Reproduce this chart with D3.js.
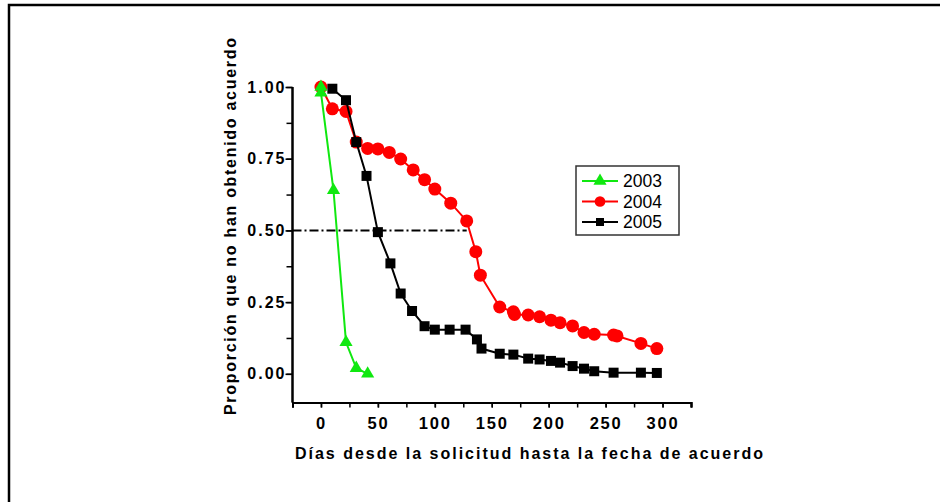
<!DOCTYPE html>
<html>
<head>
<meta charset="utf-8">
<script src="https://cdn.jsdelivr.net/npm/d3@7"></script>
<style>
  body { margin: 0; background: #fff; }
  svg { display: block; font-family: "Liberation Sans", Arial, sans-serif; }
</style>
</head>
<body>
<script>
// datos: [dias, proporcion]
const serie2003 = [[0, 1.0], [0, 0.98], [11, 0.64], [22, 0.11], [31, 0.02], [41, 0.0]];
const serie2004 = [[0, 1.0], [10, 0.924], [22, 0.915], [31, 0.808], [41, 0.786], [50, 0.784],
  [60, 0.772], [70, 0.749], [81, 0.711], [91, 0.677], [100, 0.644], [114, 0.595], [128, 0.533],
  [136, 0.426], [140, 0.344], [157, 0.233], [169, 0.216], [170, 0.207], [182, 0.205],
  [192, 0.199], [202, 0.187], [210, 0.178], [221, 0.167], [231, 0.144], [240, 0.138],
  [257, 0.135], [260, 0.132], [281, 0.106], [295, 0.088]];
const serie2005 = [[10, 0.994], [22, 0.954], [31, 0.808], [40, 0.69], [50, 0.494], [61, 0.385],
  [70, 0.28], [80, 0.219], [91, 0.166], [100, 0.154], [113, 0.154], [127, 0.154], [137, 0.12],
  [141, 0.088], [157, 0.07], [169, 0.067], [182, 0.053], [192, 0.05], [202, 0.045],
  [210, 0.039], [221, 0.027], [231, 0.018], [240, 0.009], [257, 0.004], [281, 0.004], [295, 0.003]];
const anios = ["2003", "2004", "2005"];
const ticksX = [0, 50, 100, 150, 200, 250, 300];
const ticksY = [0, 0.25, 0.5, 0.75, 1.0];
const mediana = [[-25, 0.5], [128, 0.5]];

const width = 940, height = 502;

const svg = d3.select("body").append("svg")
  .attr("width", width)
  .attr("height", height);

// marco
svg.append("path")
  .attr("d", "M9,502 V5 H940")
  .attr("fill", "none")
  .attr("stroke", "#000")
  .attr("stroke-width", 2.5);

const x = d3.scaleLinear().domain([-25, 325]).range([292.5, 691]);
const y = d3.scaleLinear().domain([-0.1, 1.0]).range([402.5, 87]);

// eje x
const ejeX = svg.append("g")
  .attr("transform", "translate(0," + 402.5 + ")");
ejeX.call(d3.axisBottom(x).tickValues(d3.range(-25, 326, 25)).tickSize(5).tickFormat(""));
ejeX.call(g => g.append("g").call(d3.axisBottom(x).tickValues(ticksX).tickSize(5).tickFormat(d3.format("d"))));
ejeX.selectAll("path.domain").attr("stroke-width", 2);
ejeX.selectAll("line").attr("stroke-width", 1.5);
ejeX.selectAll("text")
  .attr("font-size", 16.5).attr("font-weight", "bold").attr("fill", "#000")
  .attr("letter-spacing", 1.8)
  .attr("dy", null).attr("y", 26);

// eje y
const ejeY = svg.append("g")
  .attr("transform", "translate(" + 292.5 + ",0)");
ejeY.call(d3.axisLeft(y).tickValues(d3.range(0, 1.01, 0.125)).tickSize(6).tickFormat(""));
ejeY.call(g => g.append("g").call(d3.axisLeft(y).tickValues(ticksY).tickSize(7).tickFormat(d3.format(".2f"))));
ejeY.selectAll("path.domain").attr("stroke-width", 2).attr("d", "M0,87V402.5");
ejeY.selectAll("line").attr("stroke-width", 1.5);
ejeY.selectAll("text")
  .attr("font-size", 16).attr("font-weight", "bold").attr("fill", "#000")
  .attr("letter-spacing", 2)
  .attr("x", -6);

// titulos
svg.append("text")
  .attr("x", 295).attr("y", 459)
  .attr("font-size", 16).attr("font-weight", "bold")
  .attr("textLength", 468).attr("lengthAdjust", "spacing")
  .text("Días desde la solicitud hasta la fecha de acuerdo");

svg.append("text")
  .attr("transform", "translate(236,415) rotate(-90)")
  .attr("font-size", 16).attr("font-weight", "bold")
  .attr("textLength", 377).attr("lengthAdjust", "spacing")
  .text("Proporción que no han obtenido acuerdo");

// linea de la mediana
const linea = d3.line().x(d => x(d[0])).y(d => y(d[1]));
svg.append("path")
  .attr("d", linea(mediana))
  .attr("fill", "none")
  .attr("stroke", "#000")
  .attr("stroke-width", 2)
  .attr("stroke-dasharray", "9,3,2,3");

const verde = "#10e810", rojo = "#ff0000", negro = "#000";

const triangulo = d3.symbol().type(d3.symbolTriangle).size(75);
const cuadrado = d3.symbol().type(d3.symbolSquare).size(100);

function pintarSerie(datos, color, marca) {
  svg.append("path")
    .attr("d", linea(datos))
    .attr("fill", "none")
    .attr("stroke", color)
    .attr("stroke-width", 2);
  const g = svg.append("g");
  if (marca === "circulo") {
    g.selectAll("circle").data(datos).enter().append("circle")
      .attr("cx", d => x(d[0])).attr("cy", d => y(d[1]))
      .attr("r", 6.5).attr("fill", color);
  } else {
    g.selectAll("path").data(datos).enter().append("path")
      .attr("d", marca === "triangulo" ? triangulo : cuadrado)
      .attr("transform", d => "translate(" + x(d[0]) + "," + y(d[1]) + ")")
      .attr("fill", color);
  }
}

pintarSerie(serie2004, rojo, "circulo");
pintarSerie(serie2005, negro, "cuadrado");
pintarSerie(serie2003, verde, "triangulo");

// leyenda
const leyenda = svg.append("g");
leyenda.append("rect")
  .attr("x", 576).attr("y", 166).attr("width", 103).attr("height", 69)
  .attr("fill", "#fff").attr("stroke", "#333").attr("stroke-width", 1.5);
const colores = [verde, rojo, negro];
const marcas = [triangulo, d3.symbol().type(d3.symbolCircle).size(90), d3.symbol().type(d3.symbolSquare).size(64)];
anios.forEach((a, i) => {
  const yy = 181 + i * 20.5;
  leyenda.append("line")
    .attr("x1", 582).attr("x2", 618).attr("y1", yy).attr("y2", yy)
    .attr("stroke", colores[i]).attr("stroke-width", 2);
  leyenda.append("path")
    .attr("d", marcas[i])
    .attr("transform", "translate(600," + yy + ")")
    .attr("fill", colores[i]);
  leyenda.append("text")
    .attr("x", 623).attr("y", yy + 6)
    .attr("font-size", 17.5)
    .text(a);
});
</script>
</body>
</html>
